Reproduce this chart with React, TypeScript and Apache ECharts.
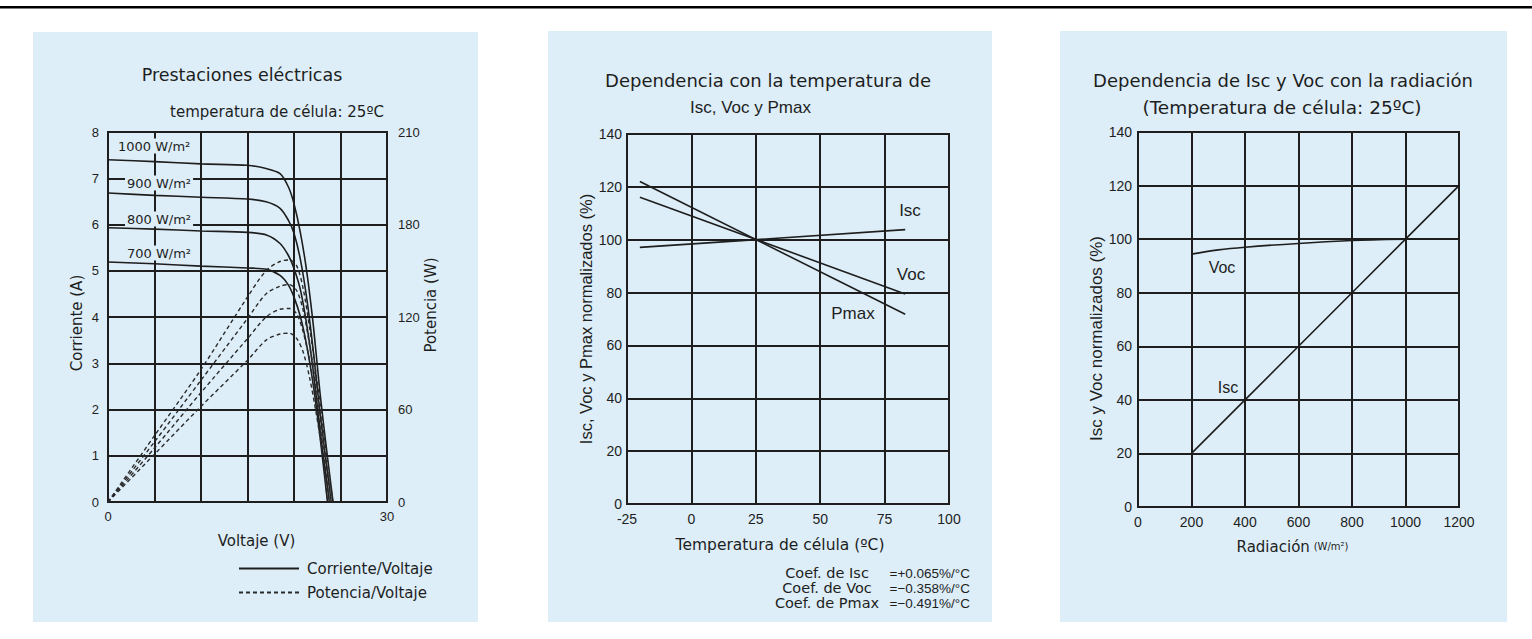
import React, { useEffect, useRef } from 'react';
import * as echarts from 'echarts';

// ---------- Panel 1: I-V (A) and P-V (W) curves vs voltage ----------
const IRRADIANCES = ['1000 W/m²', '900 W/m²', '800 W/m²', '700 W/m²'];
const IV_CURVES: number[][][] = [
  [[0, 7.40], [5, 7.36], [10, 7.31], [15, 7.28], [17, 7.21], [18.5, 7.10], [19.4, 6.81], [20, 6.45], [20.7, 5.81], [21.4, 4.94], [22.1, 3.78], [22.8, 2.35], [23.6, 0.97], [24.2, 0]],
  [[0, 6.68], [5, 6.63], [10, 6.59], [15, 6.55], [17, 6.49], [18.5, 6.35], [19.4, 6.09], [20, 5.81], [20.7, 5.23], [21.4, 4.36], [22.1, 3.22], [22.8, 1.92], [24.0, 0]],
  [[0, 5.93], [5, 5.90], [10, 5.86], [15, 5.83], [17.1, 5.77], [18.5, 5.59], [19.4, 5.33], [20, 5.05], [20.7, 4.58], [21.4, 3.79], [22.1, 2.78], [22.8, 1.56], [23.8, 0]],
  [[0, 5.19], [5, 5.15], [10, 5.10], [15, 5.06], [17.1, 5.03], [18.5, 4.90], [19.4, 4.69], [20, 4.43], [20.7, 4.00], [21.4, 3.35], [22.1, 2.49], [22.8, 1.41], [23.6, 0]],
];
const PV_CURVES: number[][][] = [
  [[0, 0], [5, 43], [10, 86], [15, 133], [17, 150], [18.5, 156], [19.5, 157], [20.3, 153], [21, 138], [21.7, 112], [22.4, 82], [23.1, 50], [23.7, 22], [24.2, 0]],
  [[0, 0], [5, 39], [10, 79], [15, 119], [17, 135], [18.5, 140], [19.5, 141], [20.3, 137], [21, 124], [21.7, 101], [22.4, 74], [23.1, 43], [24.0, 0]],
  [[0, 0], [5, 35], [10, 71], [15, 106], [17, 120], [18.5, 125], [19.5, 125.5], [20.3, 122], [21, 110], [21.7, 91], [22.4, 65], [23.1, 36], [23.8, 0]],
  [[0, 0], [5, 31], [10, 62], [15, 92], [17, 105], [18.5, 109], [19.5, 109.5], [20.3, 106], [21, 97], [21.7, 80], [22.4, 57], [23.1, 30], [23.6, 0]],
];
const P1_X_TICKS_SHOWN = [0, 30];
const P1_RIGHT_TICK_LABELS = ['0', '60', '120', '180', '210'];

// ---------- Panel 2: normalised values vs cell temperature ----------
const P2_ISC = [[-20, 97.1], [83, 103.8]];
const P2_VOC = [[-20, 116.1], [83, 79.5]];
const P2_PMAX = [[-20, 122.0], [83, 71.8]];
const P2_COEF_NAMES = ['Coef. de Isc', 'Coef. de Voc', 'Coef. de Pmax'];
const P2_COEF_VALUES = ['=+0.065%/°C', '=−0.358%/°C', '=−0.491%/°C'];

// ---------- Panel 3: normalised values vs irradiance ----------
const P3_ISC = [[200, 20], [400, 40], [600, 60], [800, 80], [1000, 100], [1200, 120]];
const P3_VOC = [[200, 94.4], [300, 96.0], [400, 97.0], [600, 98.4], [800, 99.5], [900, 99.8], [1000, 100], [1200, 100]];

const BG = '#ddeef8';
const INK = '#1e1e1e';
const VERDANA = 'DejaVu Sans, Verdana, sans-serif';
const NARROW = '"Liberation Sans Narrow", "Arial Narrow", "Liberation Sans", sans-serif';
const ARIAL = '"Liberation Sans", Arial, sans-serif';

export default function App() {
  const ref = useRef<HTMLDivElement>(null);
  useEffect(() => {
    document.body.style.margin = '0';
    if (!ref.current) return;
    const chart = echarts.init(ref.current, undefined, { renderer: 'svg' });

    const gridLine = { show: true, lineStyle: { color: INK, width: 2 } };
    const noLine = { show: false };
    const plain = (v: number) => String(v);

    const txt = (x: number, y: number, text: string, font: string, size: number, align = 'center', extra: any = {}) => ({
      type: 'text', x, y, z: 20,
      style: { text, fill: INK, fontFamily: font, fontSize: size, textAlign: align, textVerticalAlign: 'middle', ...extra },
    });

    const series: any[] = [];
    IV_CURVES.forEach((d) => series.push({
      type: 'line', name: 'Corriente/Voltaje', xAxisIndex: 0, yAxisIndex: 0, data: d,
      symbol: 'none', smooth: 0.3, lineStyle: { color: INK, width: 1.6 }, itemStyle: { color: INK },
    }));
    PV_CURVES.forEach((d) => series.push({
      type: 'line', name: 'Potencia/Voltaje', xAxisIndex: 0, yAxisIndex: 1, data: d,
      symbol: 'none', smooth: 0.3, lineStyle: { color: '#2a2a2a', width: 1.4, type: [4, 3] }, itemStyle: { color: INK },
    }));
    [P2_ISC, P2_VOC, P2_PMAX].forEach((d, i) => series.push({
      type: 'line', name: ['Isc', 'Voc', 'Pmax'][i], xAxisIndex: 1, yAxisIndex: 2, data: d,
      symbol: 'none', lineStyle: { color: INK, width: 1.6 },
    }));
    [P3_ISC, P3_VOC].forEach((d, i) => series.push({
      type: 'line', name: ['Isc ', 'Voc '][i], xAxisIndex: 2, yAxisIndex: 3, data: d,
      symbol: 'none', smooth: i === 1 ? 0.4 : false, lineStyle: { color: INK, width: 1.6 },
    }));

    const graphic: any[] = [
      { type: 'rect', z: -10, shape: { x: 0, y: 6, width: 1532, height: 2.5 }, style: { fill: '#000' } },
      { type: 'rect', z: -10, shape: { x: 33, y: 32, width: 445, height: 590 }, style: { fill: BG } },
      { type: 'rect', z: -10, shape: { x: 548, y: 31, width: 444, height: 591 }, style: { fill: BG } },
      { type: 'rect', z: -10, shape: { x: 1060, y: 31, width: 447, height: 591 }, style: { fill: BG } },
      // panel 1 titles
      txt(242, 75, 'Prestaciones eléctricas', VERDANA, 17.5),
      txt(277, 112, 'temperatura de célula: 25ºC', VERDANA, 15),
      // irradiance labels
      txt(116, 146, IRRADIANCES[0], VERDANA, 13, 'left', { backgroundColor: BG, padding: [1, 2] }),
      txt(125, 183, IRRADIANCES[1], VERDANA, 13, 'left', { backgroundColor: BG, padding: [1, 2] }),
      txt(125, 219, IRRADIANCES[2], VERDANA, 13, 'left', { backgroundColor: BG, padding: [1, 2] }),
      txt(125, 253, IRRADIANCES[3], VERDANA, 13, 'left', { backgroundColor: BG, padding: [1, 2] }),
      // panel 2 titles
      txt(768, 80, 'Dependencia con la temperatura de', VERDANA, 18),
      txt(690, 107, 'Isc, Voc y Pmax', NARROW, 17, 'left'),
      txt(910, 210, 'Isc', ARIAL, 17),
      txt(911, 274, 'Voc', ARIAL, 17),
      txt(853, 313, 'Pmax', ARIAL, 17),
      // panel 3 titles
      txt(1283, 80, 'Dependencia de Isc y Voc con la radiación', VERDANA, 18),
      txt(1282, 107, '(Temperatura de célula: 25ºC)', VERDANA, 18.5),
      txt(1222, 267, 'Voc', ARIAL, 16),
      txt(1228, 387, 'Isc', ARIAL, 16),
    ];
    P2_COEF_NAMES.forEach((n, i) => {
      graphic.push(txt(827, 573 + i * 15, n, VERDANA, 14.5));
      graphic.push(txt(970, 573 + i * 15, P2_COEF_VALUES[i], NARROW, 13.5, 'right'));
    });

    const option: any = {
      animation: false,
      backgroundColor: '#ffffff',
      textStyle: { fontFamily: VERDANA },
      grid: [
        { left: 108, top: 132, width: 279, height: 370, show: true, borderColor: INK, borderWidth: 2, backgroundColor: 'transparent' },
        { left: 627, top: 134, width: 322, height: 370, show: true, borderColor: INK, borderWidth: 2, backgroundColor: 'transparent' },
        { left: 1138, top: 132, width: 321, height: 375, show: true, borderColor: INK, borderWidth: 2, backgroundColor: 'transparent' },
      ],
      legend: {
        data: ['Corriente/Voltaje', 'Potencia/Voltaje'],
        orient: 'vertical', left: 238, top: 561, padding: 0, itemWidth: 60, itemHeight: 14, itemGap: 9,
        selectedMode: false,
        itemStyle: { color: 'rgba(0,0,0,0)', borderColor: 'rgba(0,0,0,0)', borderWidth: 0, opacity: 0 },
        textStyle: { fontFamily: VERDANA, fontSize: 15, color: INK, padding: [0, 0, 0, 3] },
      },
      xAxis: [
        {
          type: 'value', gridIndex: 0, min: 0, max: 30, interval: 5,
          axisLine: noLine, axisTick: noLine, splitLine: gridLine,
          axisLabel: { fontFamily: ARIAL, fontSize: 13, color: INK, margin: 8,
            formatter: (v: number) => (P1_X_TICKS_SHOWN.includes(v) ? String(v) : '') },
          name: 'Voltaje (V)', nameLocation: 'middle', nameGap: 31,
          nameTextStyle: { fontFamily: VERDANA, fontSize: 15, color: INK, padding: [0, 0, 0, 18] },
        },
        {
          type: 'value', gridIndex: 1, min: -25, max: 100, interval: 25,
          axisLine: noLine, axisTick: noLine, splitLine: gridLine,
          axisLabel: { fontFamily: NARROW, fontSize: 14, color: INK, margin: 8, formatter: plain },
          name: 'Temperatura de célula (ºC)', nameLocation: 'middle', nameGap: 33,
          nameTextStyle: { fontFamily: VERDANA, fontSize: 15.5, color: INK, padding: [0, 16, 0, 0] },
        },
        {
          type: 'value', gridIndex: 2, min: 0, max: 1200, interval: 200,
          axisLine: noLine, axisTick: noLine, splitLine: gridLine,
          axisLabel: { fontFamily: NARROW, fontSize: 14, color: INK, margin: 8, formatter: plain },
          name: '{a|Radiación} {b|(W/m²)}', nameLocation: 'middle', nameGap: 32,
          nameTextStyle: { color: INK, padding: [0, 12, 0, 0], rich: { a: { fontFamily: VERDANA, fontSize: 15, color: INK }, b: { fontFamily: VERDANA, fontSize: 10, color: INK } } },
        },
      ],
      yAxis: [
        {
          type: 'value', gridIndex: 0, min: 0, max: 8, interval: 1,
          axisLine: noLine, axisTick: noLine, splitLine: gridLine,
          axisLabel: { fontFamily: ARIAL, fontSize: 13, color: INK, margin: 9 },
          name: 'Corriente (A)', nameLocation: 'middle', nameGap: 24, nameRotate: 90,
          nameTextStyle: { fontFamily: VERDANA, fontSize: 15, color: INK, padding: [0, 12, 0, 0] },
        },
        {
          type: 'value', gridIndex: 0, position: 'right', min: 0, max: 240, interval: 60,
          axisLine: noLine, axisTick: noLine, splitLine: noLine,
          axisLabel: { fontFamily: ARIAL, fontSize: 13, color: INK, margin: 11,
            formatter: (v: number) => P1_RIGHT_TICK_LABELS[Math.round(v / 60)] ?? '' },
          name: 'Potencia (W)', nameLocation: 'middle', nameGap: 36, nameRotate: 90,
          nameTextStyle: { fontFamily: VERDANA, fontSize: 15, color: INK, padding: [0, 0, 0, 24] },
        },
        {
          type: 'value', gridIndex: 1, min: 0, max: 140, interval: 20,
          axisLine: noLine, axisTick: noLine, splitLine: gridLine,
          axisLabel: { fontFamily: NARROW, fontSize: 14, color: INK, margin: 5 },
          name: 'Isc, Voc y Pmax normalizados (%)', nameLocation: 'middle', nameGap: 24, nameRotate: 90,
          nameTextStyle: { fontFamily: NARROW, fontSize: 16.5, color: INK },
        },
        {
          type: 'value', gridIndex: 2, min: 0, max: 140, interval: 20,
          axisLine: noLine, axisTick: noLine, splitLine: gridLine,
          axisLabel: { fontFamily: NARROW, fontSize: 14, color: INK, margin: 6 },
          name: 'Isc y Voc normalizados (%)', nameLocation: 'middle', nameGap: 31, nameRotate: 90,
          nameTextStyle: { fontFamily: NARROW, fontSize: 17, color: INK, padding: [0, 38, 0, 0] },
        },
      ],
      series,
      graphic,
    };
    chart.setOption(option);
    return () => chart.dispose();
  }, []);
  return <div ref={ref} style={{ position: 'absolute', left: 0, top: 0, width: 1532, height: 639 }} />;
}
